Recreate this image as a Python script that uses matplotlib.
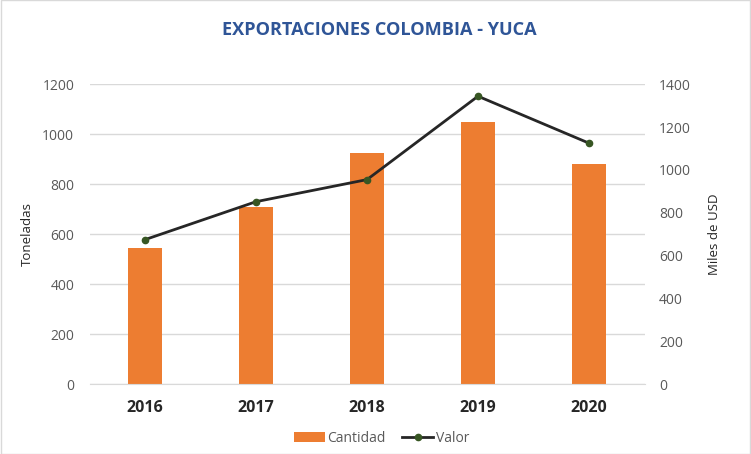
import numpy as np
import matplotlib.pyplot as plt

years = ['2016', '2017', '2018', '2019', '2020']
cantidad = [545, 708, 926, 1048, 880]
valor = [675, 852, 955, 1344, 1125]

plt.rcParams['font.family'] = ['Open Sans', 'DejaVu Sans']

fig = plt.figure(figsize=(7.51, 4.54), dpi=100)
fig.patches.append(plt.Rectangle((0.001, 0.001), 0.998, 0.998, transform=fig.transFigure,
                                 fill=False, edgecolor='#d9d9d9', linewidth=1))
ax = fig.add_axes([0.1192, 0.1535, 0.739, 0.661])
x = np.arange(len(years))

ax.bar(x, cantidad, width=0.31, color='#ED7D31', label='Cantidad', zorder=2)
ax.set_ylim(0, 1200)
ax.set_yticks(range(0, 1201, 200))
ax.set_xlim(-0.5, 4.5)
ax.set_xticks(x)
ax.set_xticklabels(years, fontsize=11.5, fontweight='bold', color='#262626')
ax.grid(axis='y', color='#d9d9d9', linewidth=1, zorder=0)
ax.set_axisbelow(True)
for s in ['top', 'right', 'left']:
    ax.spines[s].set_visible(False)
ax.spines['bottom'].set_color('#d9d9d9')
ax.tick_params(axis='both', length=0)
ax.tick_params(axis='y', labelsize=10, labelcolor='#595959', pad=11)
ax.tick_params(axis='x', pad=11)
ax.set_ylabel('Toneladas', fontsize=9.5, color='#262626', labelpad=6)

ax2 = ax.twinx()
ax2.plot(x, valor, color='#262626', linewidth=2, marker='o', markersize=4.5,
         markerfacecolor='#375623', markeredgecolor='#375623', label='Valor', zorder=3)
ax2.set_ylim(0, 1400)
ax2.set_yticks(range(0, 1401, 200))
for s in ['top', 'right', 'left', 'bottom']:
    ax2.spines[s].set_visible(False)
ax2.tick_params(axis='y', length=0, labelsize=10, labelcolor='#595959', pad=10.5)
ax2.set_ylabel('Miles de USD', fontsize=9.5, color='#262626', labelpad=12)

fig.text(0.505, 0.933, 'EXPORTACIONES COLOMBIA - YUCA', ha='center', va='center',
         fontsize=13.1, fontweight='bold', color='#2F5597')

h1, l1 = ax.get_legend_handles_labels()
h2, l2 = ax2.get_legend_handles_labels()
fig.legend(h1 + h2, l1 + l2, loc='center', bbox_to_anchor=(0.508, 0.035), ncol=2,
           frameon=False, fontsize=10, labelcolor='#595959', handlelength=2.2,
           handletextpad=0.2, columnspacing=1.2)

fig.savefig('out.png', dpi=100)
